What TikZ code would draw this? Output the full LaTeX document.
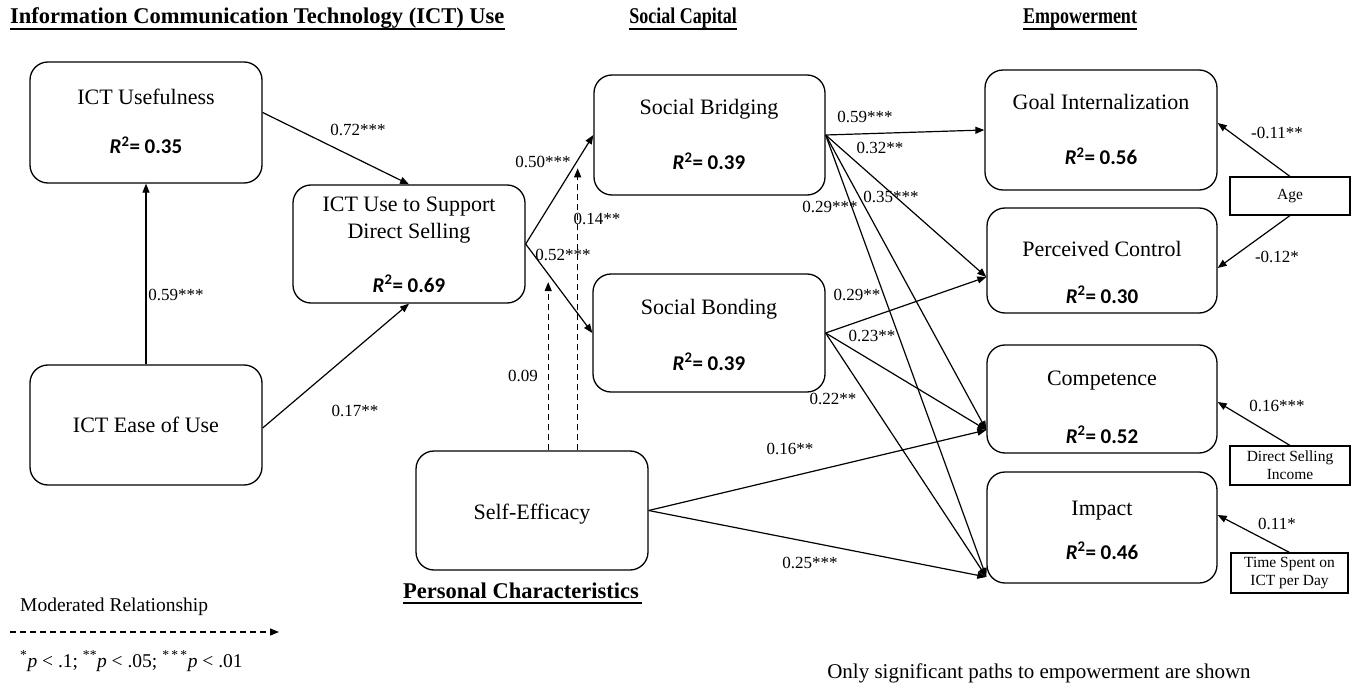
\documentclass[tikz,border=0pt]{standalone}
\usepackage{fontspec}
\setmainfont{Liberation Serif}
\newfontfamily\carlito{Carlito}
\usetikzlibrary{arrows.meta,calc}
\begin{document}
\begin{tikzpicture}[x=1pt,y=-1pt,
  box/.style={draw, line width=1.3pt, rounded corners=18pt, inner sep=0pt},
  sbox/.style={draw, line width=1.1pt, inner sep=0pt, align=center, font=\fontsize{15.5}{18}\selectfont},
  arr/.style={line width=1.2pt, -{Triangle[length=9pt,width=7pt]}},
  dasharr/.style={arr, dash pattern=on 6pt off 4pt},
  lbl/.style={font=\fontsize{17}{20}\selectfont, inner sep=0pt, anchor=base},
  ttl/.style={font=\fontsize{22}{25}\selectfont, inner sep=0pt, anchor=base},
  rsq/.style={font=\carlito\bfseries\fontsize{21}{24}\selectfont, inner sep=0pt, anchor=base},
  head/.style={font=\bfseries\fontsize{22.5}{26}\selectfont, inner sep=0pt},
  uline/.style={line width=2.4pt},
  note/.style={font=\fontsize{19.5}{22}\selectfont, inner sep=0pt, anchor=base west}
]
\useasboundingbox (0,0) rectangle (1358,687);

% headings
\node[head, anchor=base west] (h1) at (10,24) {Information Communication Technology (ICT) Use};
\draw[uline] ([yshift=-5pt]h1.base west) -- ([yshift=-5pt]h1.base east);
\node[head, anchor=base] (h2) at (683,24) {\scalebox{0.8}[1]{Social Capital}};
\draw[uline] ([yshift=-5pt]h2.base west) -- ([yshift=-5pt]h2.base east);
\node[head, anchor=base] (h3) at (1080,24) {\scalebox{0.8}[1]{Empowerment}};
\draw[uline] ([yshift=-5pt]h3.base west) -- ([yshift=-5pt]h3.base east);
\node[head, anchor=base west] (h4) at (403,598) {Personal Characteristics};
\draw[uline] ([yshift=-5pt]h4.base west) -- ([yshift=-5pt,xshift=3pt]h4.base east);

% boxes
\node[box, minimum width=232pt, minimum height=121pt] (useful) at (146,122.5) {};
\node[box, minimum width=232pt, minimum height=120pt] (ease) at (146,425) {};
\node[box, minimum width=232pt, minimum height=118pt] (ictuse) at (409,244) {};
\node[box, minimum width=231pt, minimum height=120pt] (bridg) at (709.5,135) {};
\node[box, minimum width=232pt, minimum height=118pt] (bond) at (709,333) {};
\node[box, minimum width=232pt, minimum height=119pt] (selfeff) at (532,510.5) {};
\node[box, minimum width=232pt, minimum height=120pt] (goal) at (1101,130) {};
\node[box, minimum width=230pt, minimum height=105pt] (pc) at (1102,260.5) {};
\node[box, minimum width=230pt, minimum height=108pt] (comp) at (1102,399) {};
\node[box, minimum width=230pt, minimum height=111pt] (impact) at (1102,527.5) {};

% box texts
\node[ttl] (t-useful) at (146,105) {ICT Usefulness};
\node[rsq] (r-useful) at (146,154) {\textit{R}\textsuperscript{2}= 0.35};
\node[ttl] (t-ease) at (146,432) {ICT Ease of Use};
\node[ttl] (t-ictuse1) at (409,212) {ICT Use to Support};
\node[ttl] (t-ictuse2) at (409,239) {Direct Selling};
\node[rsq] (r-ictuse) at (409,292) {\textit{R}\textsuperscript{2}= 0.69};
\node[ttl] (t-bridg) at (709,115) {Social Bridging};
\node[rsq] (r-bridg) at (709,170) {\textit{R}\textsuperscript{2}= 0.39};
\node[ttl] (t-bond) at (709,314) {Social Bonding};
\node[rsq] (r-bond) at (709,370) {\textit{R}\textsuperscript{2}= 0.39};
\node[ttl] (t-self) at (532,519) {Self-Efficacy};
\node[ttl] (t-goal) at (1101,110) {Goal Internalization};
\node[rsq] (r-goal) at (1101,165) {\textit{R}\textsuperscript{2}= 0.56};
\node[ttl] (t-pc) at (1102,257) {Perceived Control};
\node[rsq] (r-pc) at (1102,303) {\textit{R}\textsuperscript{2}= 0.30};
\node[ttl] (t-comp) at (1102,385) {Competence};
\node[rsq] (r-comp) at (1102,443) {\textit{R}\textsuperscript{2}= 0.52};
\node[ttl] (t-imp) at (1102,515) {Impact};
\node[rsq] (r-imp) at (1102,559) {\textit{R}\textsuperscript{2}= 0.46};

% control boxes
\node[sbox, minimum width=120pt, minimum height=38pt] (age) at (1290,196) {Age};
\node[sbox, minimum width=120pt, minimum height=39pt] (dsi) at (1290,465.5) {Direct Selling\\Income};
\node[sbox, minimum width=117pt, minimum height=40pt] (time) at (1289.5,573) {Time Spent on\\ICT per Day};

% entry points
\coordinate (pcin) at ($(pc.west)+(0,16.5)$);
\coordinate (compin) at ($(comp.west)+(0,31)$);
\coordinate (impin) at ($(impact.west)+(0,49.5)$);

% arrows
\draw[arr] (ease.north) -- (useful.south);
\draw[arr] ($(useful.east)+(0,-10)$) -- (ictuse.north);
\draw[arr] ($(ease.east)+(0,3)$) -- (ictuse.south);
\draw[arr] (ictuse.east) -- coordinate[pos=0.768] (m1) (bridg.west);
\draw[arr] (ictuse.east) -- coordinate[pos=0.338] (m2) (bond.west);
\draw[dasharr, shorten >=8pt] (selfeff.north -| m2) -- (m2);
\draw[dasharr, shorten >=8pt] (selfeff.north -| m1) -- (m1);

\draw[arr] (bridg.east) -- (goal.west);
\draw[arr] (bridg.east) -- (pcin);
\draw[arr] (bridg.east) -- (compin);
\draw[arr] (bridg.east) -- (impin);
\draw[arr] (bond.east) -- (pcin);
\draw[arr] (bond.east) -- (compin);
\draw[arr] (bond.east) -- (impin);
\draw[arr] (selfeff.east) -- (compin);
\draw[arr] (selfeff.east) -- (impin);

\draw[arr] (age.north) -- ($(goal.east)+(0,-7)$);
\draw[arr] (age.south) -- ($(pc.east)+(0,7.5)$);
\draw[arr] (dsi.north) -- ($(comp.east)+(0,3)$);
\draw[arr] (time.north) -- ($(impact.east)+(0,-12.5)$);

% path labels
\node[lbl] (l1) at (358,136) {0.72***};
\node[lbl] (l2) at (176,301) {0.59***};
\node[lbl] (l3) at (355,416) {0.17**};
\node[lbl] (l4) at (543,168) {0.50***};
\node[lbl] (l5) at (597,225) {0.14**};
\node[lbl] (l6) at (563,261) {0.52***};
\node[lbl] (l7) at (523,381) {0.09};
\node[lbl] (l8) at (865,123) {0.59***};
\node[lbl] (l9) at (880,154) {0.32**};
\node[lbl] (l10) at (891,203) {0.35***};
\node[lbl] (l11) at (830,213) {0.29***};
\node[lbl] (l12) at (857,301) {0.29**};
\node[lbl] (l13) at (872,341) {0.23**};
\node[lbl] (l14) at (833,404) {0.22**};
\node[lbl] (l15) at (790,454) {0.16**};
\node[lbl] (l16) at (810,568) {0.25***};
\node[lbl] (l17) at (1277,139) {-0.11**};
\node[lbl] (l18) at (1277,263) {-0.12*};
\node[lbl] (l19) at (1277,411) {0.16***};
\node[lbl] (l20) at (1277,529) {0.11*};

% legend
\node[note] (leg) at (20,611) {Moderated Relationship};
\coordinate (lg1) at (10,632);
\coordinate (lg2) at (279,632);
\draw[dasharr] (lg1) -- (lg2);
\node[note] (sig) at (20,667) {\textsuperscript{*}\textit{p} < .1; \textsuperscript{**}\textit{p} < .05; \textsuperscript{*\,*\,*}\textit{p} < .01};
\node[note, font=\fontsize{21}{24}\selectfont, anchor=base] (only) at (1039,678) {Only significant paths to empowerment are shown};
\end{tikzpicture}
\end{document}
